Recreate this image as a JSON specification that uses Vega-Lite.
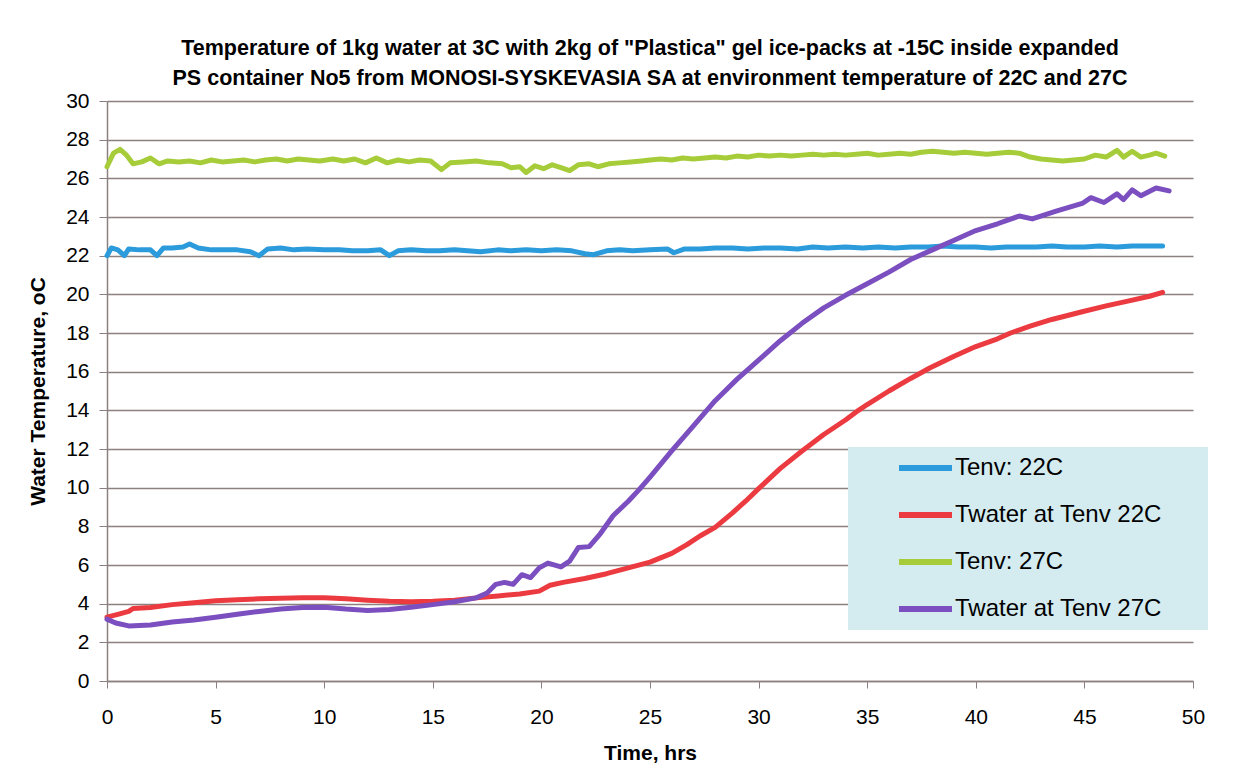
{
  "$schema": "https://vega.github.io/schema/vega-lite/v6.json",
  "width": 1086,
  "height": 580,
  "autosize": {"type": "none"},
  "padding": {"left": 107, "top": 101, "right": 64, "bottom": 91},
  "background": "white",
  "config": {"view": {"stroke": null}, "font": "Liberation Sans"},
  "title": {
    "text": ["Temperature of 1kg water at 3C with 2kg of \"Plastica\" gel ice-packs at -15C inside expanded", "PS container No5 from MONOSI-SYSKEVASIA SA at environment temperature of 22C and 27C"],
    "fontSize": 21.5, "fontWeight": "bold", "font": "Liberation Sans", "color": "black",
    "lineHeight": 30, "offset": 1, "anchor": "middle"
  },
  "data": {"values": [
{"series":"Tenv: 22C","hours":0,"temp":22.0},{"series":"Tenv: 22C","hours":0.2,"temp":22.4},{"series":"Tenv: 22C","hours":0.5,"temp":22.3},{"series":"Tenv: 22C","hours":0.8,"temp":22.0},{"series":"Tenv: 22C","hours":1.0,"temp":22.35},{"series":"Tenv: 22C","hours":1.5,"temp":22.3},{"series":"Tenv: 22C","hours":2.0,"temp":22.3},{"series":"Tenv: 22C","hours":2.3,"temp":22.0},{"series":"Tenv: 22C","hours":2.6,"temp":22.4},{"series":"Tenv: 22C","hours":3.0,"temp":22.4},{"series":"Tenv: 22C","hours":3.5,"temp":22.45},{"series":"Tenv: 22C","hours":3.8,"temp":22.6},{"series":"Tenv: 22C","hours":4.2,"temp":22.4},{"series":"Tenv: 22C","hours":4.8,"temp":22.3},{"series":"Tenv: 22C","hours":5.5,"temp":22.3},{"series":"Tenv: 22C","hours":6.0,"temp":22.3},{"series":"Tenv: 22C","hours":6.6,"temp":22.2},{"series":"Tenv: 22C","hours":7.0,"temp":22.0},{"series":"Tenv: 22C","hours":7.4,"temp":22.35},{"series":"Tenv: 22C","hours":8.0,"temp":22.4},{"series":"Tenv: 22C","hours":8.6,"temp":22.3},{"series":"Tenv: 22C","hours":9.2,"temp":22.35},{"series":"Tenv: 22C","hours":10,"temp":22.3},{"series":"Tenv: 22C","hours":10.7,"temp":22.3},{"series":"Tenv: 22C","hours":11.3,"temp":22.25},{"series":"Tenv: 22C","hours":12,"temp":22.25},{"series":"Tenv: 22C","hours":12.6,"temp":22.3},{"series":"Tenv: 22C","hours":13.0,"temp":22.0},{"series":"Tenv: 22C","hours":13.4,"temp":22.25},{"series":"Tenv: 22C","hours":14,"temp":22.3},{"series":"Tenv: 22C","hours":14.7,"temp":22.25},{"series":"Tenv: 22C","hours":15.3,"temp":22.25},{"series":"Tenv: 22C","hours":16,"temp":22.3},{"series":"Tenv: 22C","hours":16.6,"temp":22.25},{"series":"Tenv: 22C","hours":17.2,"temp":22.2},{"series":"Tenv: 22C","hours":18,"temp":22.3},{"series":"Tenv: 22C","hours":18.6,"temp":22.25},{"series":"Tenv: 22C","hours":19.3,"temp":22.3},{"series":"Tenv: 22C","hours":20,"temp":22.25},{"series":"Tenv: 22C","hours":20.7,"temp":22.3},{"series":"Tenv: 22C","hours":21.4,"temp":22.25},{"series":"Tenv: 22C","hours":22.0,"temp":22.1},{"series":"Tenv: 22C","hours":22.4,"temp":22.05},{"series":"Tenv: 22C","hours":23,"temp":22.25},{"series":"Tenv: 22C","hours":23.6,"temp":22.3},{"series":"Tenv: 22C","hours":24.2,"temp":22.25},{"series":"Tenv: 22C","hours":25,"temp":22.3},{"series":"Tenv: 22C","hours":25.8,"temp":22.35},{"series":"Tenv: 22C","hours":26.1,"temp":22.15},{"series":"Tenv: 22C","hours":26.6,"temp":22.35},{"series":"Tenv: 22C","hours":27.3,"temp":22.35},{"series":"Tenv: 22C","hours":28,"temp":22.4},{"series":"Tenv: 22C","hours":28.8,"temp":22.4},{"series":"Tenv: 22C","hours":29.5,"temp":22.35},{"series":"Tenv: 22C","hours":30.3,"temp":22.4},{"series":"Tenv: 22C","hours":31,"temp":22.4},{"series":"Tenv: 22C","hours":31.8,"temp":22.35},{"series":"Tenv: 22C","hours":32.5,"temp":22.45},{"series":"Tenv: 22C","hours":33.2,"temp":22.4},{"series":"Tenv: 22C","hours":34,"temp":22.45},{"series":"Tenv: 22C","hours":34.8,"temp":22.4},{"series":"Tenv: 22C","hours":35.5,"temp":22.45},{"series":"Tenv: 22C","hours":36.3,"temp":22.4},{"series":"Tenv: 22C","hours":37,"temp":22.45},{"series":"Tenv: 22C","hours":37.8,"temp":22.45},{"series":"Tenv: 22C","hours":38.5,"temp":22.5},{"series":"Tenv: 22C","hours":39.2,"temp":22.45},{"series":"Tenv: 22C","hours":40,"temp":22.45},{"series":"Tenv: 22C","hours":40.7,"temp":22.4},{"series":"Tenv: 22C","hours":41.4,"temp":22.45},{"series":"Tenv: 22C","hours":42,"temp":22.45},{"series":"Tenv: 22C","hours":42.8,"temp":22.45},{"series":"Tenv: 22C","hours":43.5,"temp":22.5},{"series":"Tenv: 22C","hours":44.2,"temp":22.45},{"series":"Tenv: 22C","hours":45,"temp":22.45},{"series":"Tenv: 22C","hours":45.7,"temp":22.5},{"series":"Tenv: 22C","hours":46.5,"temp":22.45},{"series":"Tenv: 22C","hours":47.2,"temp":22.5},{"series":"Tenv: 22C","hours":48,"temp":22.5},{"series":"Tenv: 22C","hours":48.6,"temp":22.5},
{"series":"Twater at Tenv 22C","hours":0,"temp":3.3},{"series":"Twater at Tenv 22C","hours":0.5,"temp":3.45},{"series":"Twater at Tenv 22C","hours":1,"temp":3.6},{"series":"Twater at Tenv 22C","hours":1.2,"temp":3.75},{"series":"Twater at Tenv 22C","hours":2,"temp":3.8},{"series":"Twater at Tenv 22C","hours":3,"temp":3.95},{"series":"Twater at Tenv 22C","hours":4,"temp":4.05},{"series":"Twater at Tenv 22C","hours":5,"temp":4.15},{"series":"Twater at Tenv 22C","hours":6,"temp":4.2},{"series":"Twater at Tenv 22C","hours":7,"temp":4.25},{"series":"Twater at Tenv 22C","hours":8,"temp":4.28},{"series":"Twater at Tenv 22C","hours":9,"temp":4.3},{"series":"Twater at Tenv 22C","hours":10,"temp":4.3},{"series":"Twater at Tenv 22C","hours":11,"temp":4.25},{"series":"Twater at Tenv 22C","hours":12,"temp":4.18},{"series":"Twater at Tenv 22C","hours":13,"temp":4.12},{"series":"Twater at Tenv 22C","hours":14,"temp":4.1},{"series":"Twater at Tenv 22C","hours":15,"temp":4.12},{"series":"Twater at Tenv 22C","hours":16,"temp":4.18},{"series":"Twater at Tenv 22C","hours":17,"temp":4.3},{"series":"Twater at Tenv 22C","hours":18,"temp":4.4},{"series":"Twater at Tenv 22C","hours":19,"temp":4.5},{"series":"Twater at Tenv 22C","hours":19.9,"temp":4.65},{"series":"Twater at Tenv 22C","hours":20.4,"temp":4.95},{"series":"Twater at Tenv 22C","hours":21,"temp":5.1},{"series":"Twater at Tenv 22C","hours":22,"temp":5.3},{"series":"Twater at Tenv 22C","hours":23,"temp":5.55},{"series":"Twater at Tenv 22C","hours":24,"temp":5.85},{"series":"Twater at Tenv 22C","hours":25,"temp":6.15},{"series":"Twater at Tenv 22C","hours":26,"temp":6.6},{"series":"Twater at Tenv 22C","hours":26.7,"temp":7.05},{"series":"Twater at Tenv 22C","hours":27.3,"temp":7.5},{"series":"Twater at Tenv 22C","hours":28,"temp":7.95},{"series":"Twater at Tenv 22C","hours":28.8,"temp":8.7},{"series":"Twater at Tenv 22C","hours":29.4,"temp":9.3},{"series":"Twater at Tenv 22C","hours":30,"temp":9.95},{"series":"Twater at Tenv 22C","hours":31,"temp":11.0},{"series":"Twater at Tenv 22C","hours":32,"temp":11.9},{"series":"Twater at Tenv 22C","hours":33,"temp":12.75},{"series":"Twater at Tenv 22C","hours":34,"temp":13.5},{"series":"Twater at Tenv 22C","hours":34.6,"temp":14.0},{"series":"Twater at Tenv 22C","hours":35,"temp":14.3},{"series":"Twater at Tenv 22C","hours":36,"temp":15.0},{"series":"Twater at Tenv 22C","hours":37,"temp":15.65},{"series":"Twater at Tenv 22C","hours":37.9,"temp":16.2},{"series":"Twater at Tenv 22C","hours":39,"temp":16.8},{"series":"Twater at Tenv 22C","hours":40,"temp":17.3},{"series":"Twater at Tenv 22C","hours":41,"temp":17.7},{"series":"Twater at Tenv 22C","hours":41.6,"temp":18.0},{"series":"Twater at Tenv 22C","hours":42.5,"temp":18.35},{"series":"Twater at Tenv 22C","hours":43.5,"temp":18.7},{"series":"Twater at Tenv 22C","hours":44.9,"temp":19.1},{"series":"Twater at Tenv 22C","hours":46,"temp":19.4},{"series":"Twater at Tenv 22C","hours":47,"temp":19.65},{"series":"Twater at Tenv 22C","hours":48,"temp":19.9},{"series":"Twater at Tenv 22C","hours":48.6,"temp":20.1},
{"series":"Tenv: 27C","hours":0,"temp":26.6},{"series":"Tenv: 27C","hours":0.3,"temp":27.3},{"series":"Tenv: 27C","hours":0.6,"temp":27.5},{"series":"Tenv: 27C","hours":0.9,"temp":27.2},{"series":"Tenv: 27C","hours":1.2,"temp":26.75},{"series":"Tenv: 27C","hours":1.6,"temp":26.85},{"series":"Tenv: 27C","hours":2.0,"temp":27.05},{"series":"Tenv: 27C","hours":2.4,"temp":26.75},{"series":"Tenv: 27C","hours":2.8,"temp":26.9},{"series":"Tenv: 27C","hours":3.3,"temp":26.85},{"series":"Tenv: 27C","hours":3.8,"temp":26.9},{"series":"Tenv: 27C","hours":4.3,"temp":26.8},{"series":"Tenv: 27C","hours":4.8,"temp":26.95},{"series":"Tenv: 27C","hours":5.3,"temp":26.85},{"series":"Tenv: 27C","hours":5.8,"temp":26.9},{"series":"Tenv: 27C","hours":6.3,"temp":26.95},{"series":"Tenv: 27C","hours":6.8,"temp":26.85},{"series":"Tenv: 27C","hours":7.3,"temp":26.95},{"series":"Tenv: 27C","hours":7.8,"temp":27.0},{"series":"Tenv: 27C","hours":8.3,"temp":26.9},{"series":"Tenv: 27C","hours":8.8,"temp":27.0},{"series":"Tenv: 27C","hours":9.3,"temp":26.95},{"series":"Tenv: 27C","hours":9.8,"temp":26.9},{"series":"Tenv: 27C","hours":10.4,"temp":27.0},{"series":"Tenv: 27C","hours":10.9,"temp":26.9},{"series":"Tenv: 27C","hours":11.4,"temp":27.0},{"series":"Tenv: 27C","hours":11.9,"temp":26.8},{"series":"Tenv: 27C","hours":12.4,"temp":27.05},{"series":"Tenv: 27C","hours":12.9,"temp":26.8},{"series":"Tenv: 27C","hours":13.4,"temp":26.95},{"series":"Tenv: 27C","hours":13.9,"temp":26.85},{"series":"Tenv: 27C","hours":14.4,"temp":26.95},{"series":"Tenv: 27C","hours":14.9,"temp":26.9},{"series":"Tenv: 27C","hours":15.4,"temp":26.45},{"series":"Tenv: 27C","hours":15.8,"temp":26.8},{"series":"Tenv: 27C","hours":16.4,"temp":26.85},{"series":"Tenv: 27C","hours":17,"temp":26.9},{"series":"Tenv: 27C","hours":17.6,"temp":26.8},{"series":"Tenv: 27C","hours":18.2,"temp":26.75},{"series":"Tenv: 27C","hours":18.6,"temp":26.55},{"series":"Tenv: 27C","hours":19.0,"temp":26.6},{"series":"Tenv: 27C","hours":19.3,"temp":26.3},{"series":"Tenv: 27C","hours":19.7,"temp":26.65},{"series":"Tenv: 27C","hours":20.1,"temp":26.5},{"series":"Tenv: 27C","hours":20.5,"temp":26.7},{"series":"Tenv: 27C","hours":20.9,"temp":26.55},{"series":"Tenv: 27C","hours":21.3,"temp":26.4},{"series":"Tenv: 27C","hours":21.7,"temp":26.7},{"series":"Tenv: 27C","hours":22.2,"temp":26.75},{"series":"Tenv: 27C","hours":22.6,"temp":26.6},{"series":"Tenv: 27C","hours":23.1,"temp":26.75},{"series":"Tenv: 27C","hours":23.6,"temp":26.8},{"series":"Tenv: 27C","hours":24.1,"temp":26.85},{"series":"Tenv: 27C","hours":24.6,"temp":26.9},{"series":"Tenv: 27C","hours":25,"temp":26.95},{"series":"Tenv: 27C","hours":25.5,"temp":27.0},{"series":"Tenv: 27C","hours":26,"temp":26.95},{"series":"Tenv: 27C","hours":26.5,"temp":27.05},{"series":"Tenv: 27C","hours":27,"temp":27.0},{"series":"Tenv: 27C","hours":27.5,"temp":27.05},{"series":"Tenv: 27C","hours":28,"temp":27.1},{"series":"Tenv: 27C","hours":28.5,"temp":27.05},{"series":"Tenv: 27C","hours":29,"temp":27.15},{"series":"Tenv: 27C","hours":29.5,"temp":27.1},{"series":"Tenv: 27C","hours":30,"temp":27.2},{"series":"Tenv: 27C","hours":30.5,"temp":27.15},{"series":"Tenv: 27C","hours":31,"temp":27.2},{"series":"Tenv: 27C","hours":31.5,"temp":27.15},{"series":"Tenv: 27C","hours":32,"temp":27.2},{"series":"Tenv: 27C","hours":32.5,"temp":27.25},{"series":"Tenv: 27C","hours":33,"temp":27.2},{"series":"Tenv: 27C","hours":33.5,"temp":27.25},{"series":"Tenv: 27C","hours":34,"temp":27.2},{"series":"Tenv: 27C","hours":34.5,"temp":27.25},{"series":"Tenv: 27C","hours":35,"temp":27.3},{"series":"Tenv: 27C","hours":35.5,"temp":27.2},{"series":"Tenv: 27C","hours":36,"temp":27.25},{"series":"Tenv: 27C","hours":36.5,"temp":27.3},{"series":"Tenv: 27C","hours":37,"temp":27.25},{"series":"Tenv: 27C","hours":37.5,"temp":27.35},{"series":"Tenv: 27C","hours":38,"temp":27.4},{"series":"Tenv: 27C","hours":38.5,"temp":27.35},{"series":"Tenv: 27C","hours":39,"temp":27.3},{"series":"Tenv: 27C","hours":39.5,"temp":27.35},{"series":"Tenv: 27C","hours":40,"temp":27.3},{"series":"Tenv: 27C","hours":40.5,"temp":27.25},{"series":"Tenv: 27C","hours":41,"temp":27.3},{"series":"Tenv: 27C","hours":41.5,"temp":27.35},{"series":"Tenv: 27C","hours":42,"temp":27.3},{"series":"Tenv: 27C","hours":42.5,"temp":27.1},{"series":"Tenv: 27C","hours":43,"temp":27.0},{"series":"Tenv: 27C","hours":43.5,"temp":26.95},{"series":"Tenv: 27C","hours":44,"temp":26.9},{"series":"Tenv: 27C","hours":44.5,"temp":26.95},{"series":"Tenv: 27C","hours":45,"temp":27.0},{"series":"Tenv: 27C","hours":45.5,"temp":27.2},{"series":"Tenv: 27C","hours":46,"temp":27.1},{"series":"Tenv: 27C","hours":46.5,"temp":27.45},{"series":"Tenv: 27C","hours":46.8,"temp":27.1},{"series":"Tenv: 27C","hours":47.2,"temp":27.4},{"series":"Tenv: 27C","hours":47.6,"temp":27.1},{"series":"Tenv: 27C","hours":48,"temp":27.2},{"series":"Tenv: 27C","hours":48.3,"temp":27.3},{"series":"Tenv: 27C","hours":48.7,"temp":27.15},
{"series":"Twater at Tenv 27C","hours":0,"temp":3.2},{"series":"Twater at Tenv 27C","hours":0.4,"temp":3.0},{"series":"Twater at Tenv 27C","hours":1,"temp":2.85},{"series":"Twater at Tenv 27C","hours":2,"temp":2.9},{"series":"Twater at Tenv 27C","hours":3,"temp":3.05},{"series":"Twater at Tenv 27C","hours":4,"temp":3.15},{"series":"Twater at Tenv 27C","hours":5,"temp":3.3},{"series":"Twater at Tenv 27C","hours":6,"temp":3.45},{"series":"Twater at Tenv 27C","hours":7,"temp":3.6},{"series":"Twater at Tenv 27C","hours":8,"temp":3.72},{"series":"Twater at Tenv 27C","hours":9,"temp":3.8},{"series":"Twater at Tenv 27C","hours":10,"temp":3.82},{"series":"Twater at Tenv 27C","hours":11,"temp":3.72},{"series":"Twater at Tenv 27C","hours":12,"temp":3.65},{"series":"Twater at Tenv 27C","hours":13,"temp":3.7},{"series":"Twater at Tenv 27C","hours":14,"temp":3.82},{"series":"Twater at Tenv 27C","hours":15,"temp":3.95},{"series":"Twater at Tenv 27C","hours":16,"temp":4.1},{"series":"Twater at Tenv 27C","hours":17,"temp":4.3},{"series":"Twater at Tenv 27C","hours":17.5,"temp":4.55},{"series":"Twater at Tenv 27C","hours":17.9,"temp":5.0},{"series":"Twater at Tenv 27C","hours":18.3,"temp":5.1},{"series":"Twater at Tenv 27C","hours":18.7,"temp":5.0},{"series":"Twater at Tenv 27C","hours":19.1,"temp":5.5},{"series":"Twater at Tenv 27C","hours":19.5,"temp":5.35},{"series":"Twater at Tenv 27C","hours":19.9,"temp":5.85},{"series":"Twater at Tenv 27C","hours":20.3,"temp":6.1},{"series":"Twater at Tenv 27C","hours":20.9,"temp":5.9},{"series":"Twater at Tenv 27C","hours":21.3,"temp":6.2},{"series":"Twater at Tenv 27C","hours":21.7,"temp":6.9},{"series":"Twater at Tenv 27C","hours":22.2,"temp":6.95},{"series":"Twater at Tenv 27C","hours":22.7,"temp":7.6},{"series":"Twater at Tenv 27C","hours":23.3,"temp":8.55},{"series":"Twater at Tenv 27C","hours":24,"temp":9.3},{"series":"Twater at Tenv 27C","hours":24.5,"temp":9.9},{"series":"Twater at Tenv 27C","hours":25,"temp":10.55},{"series":"Twater at Tenv 27C","hours":26,"temp":11.9},{"series":"Twater at Tenv 27C","hours":27,"temp":13.2},{"series":"Twater at Tenv 27C","hours":28,"temp":14.5},{"series":"Twater at Tenv 27C","hours":29,"temp":15.6},{"series":"Twater at Tenv 27C","hours":30,"temp":16.6},{"series":"Twater at Tenv 27C","hours":31,"temp":17.6},{"series":"Twater at Tenv 27C","hours":32,"temp":18.5},{"series":"Twater at Tenv 27C","hours":33,"temp":19.3},{"series":"Twater at Tenv 27C","hours":34,"temp":19.95},{"series":"Twater at Tenv 27C","hours":35,"temp":20.55},{"series":"Twater at Tenv 27C","hours":36,"temp":21.15},{"series":"Twater at Tenv 27C","hours":37,"temp":21.8},{"series":"Twater at Tenv 27C","hours":38,"temp":22.3},{"series":"Twater at Tenv 27C","hours":39,"temp":22.8},{"series":"Twater at Tenv 27C","hours":40,"temp":23.3},{"series":"Twater at Tenv 27C","hours":41,"temp":23.65},{"series":"Twater at Tenv 27C","hours":42,"temp":24.05},{"series":"Twater at Tenv 27C","hours":42.6,"temp":23.9},{"series":"Twater at Tenv 27C","hours":43.7,"temp":24.3},{"series":"Twater at Tenv 27C","hours":44.9,"temp":24.7},{"series":"Twater at Tenv 27C","hours":45.3,"temp":25.0},{"series":"Twater at Tenv 27C","hours":45.9,"temp":24.75},{"series":"Twater at Tenv 27C","hours":46.5,"temp":25.2},{"series":"Twater at Tenv 27C","hours":46.8,"temp":24.9},{"series":"Twater at Tenv 27C","hours":47.2,"temp":25.4},{"series":"Twater at Tenv 27C","hours":47.6,"temp":25.1},{"series":"Twater at Tenv 27C","hours":48.3,"temp":25.5},{"series":"Twater at Tenv 27C","hours":48.9,"temp":25.35}
  ]},
  "mark": {"type": "line", "strokeWidth": 5, "strokeCap": "round", "strokeJoin": "round"},
  "encoding": {
    "x": {"field": "hours", "type": "quantitative", "scale": {"domain": [0, 50], "nice": false},
      "axis": {"values": [0,5,10,15,20,25,30,35,40,45,50], "labelFlush": false, "title": "Time, hrs", "grid": false, "domainColor": "#8c8080", "domainWidth": 1.5, "tickColor": "#8c8080", "tickSize": 7, "labelFontSize": 21, "labelPadding": 18, "labelColor": "black", "titleFontSize": 21, "titleFontWeight": "bold", "titleColor": "black", "titlePadding": 15}},
    "y": {"field": "temp", "type": "quantitative", "scale": {"domain": [0, 30], "nice": false},
      "axis": {"values": [0,2,4,6,8,10,12,14,16,18,20,22,24,26,28,30], "labelFlush": false, "title": "Water Temperature, oC", "gridColor": "#8c8080", "gridWidth": 1.5, "gridOpacity": 1, "domainColor": "#8c8080", "domainWidth": 1.5, "tickColor": "#8c8080", "tickSize": 8, "labelFontSize": 21, "labelPadding": 10, "labelColor": "black", "titleFontSize": 21, "titleFontWeight": "bold", "titleColor": "black", "titlePadding": 17}},
    "color": {"field": "series", "type": "nominal", "sort": null,
      "scale": {"domain": ["Tenv: 22C", "Twater at Tenv 22C", "Tenv: 27C", "Twater at Tenv 27C"], "range": ["#2b9bdb", "#ec3b40", "#a6cd39", "#7b4fbf"]},
      "legend": {"orient": "none", "legendX": 741, "legendY": 346, "title": " ", "titleOrient": "right", "titlePadding": 40, "fillColor": "#d4ecf0", "padding": 6, "symbolType": "stroke", "symbolSize": 2809, "symbolStrokeWidth": 6, "symbolOffset": 42, "clipHeight": 30, "rowPadding": 17, "labelFontSize": 24, "labelColor": "black", "labelOffset": 0, "labelLimit": 400}}
  }
}
